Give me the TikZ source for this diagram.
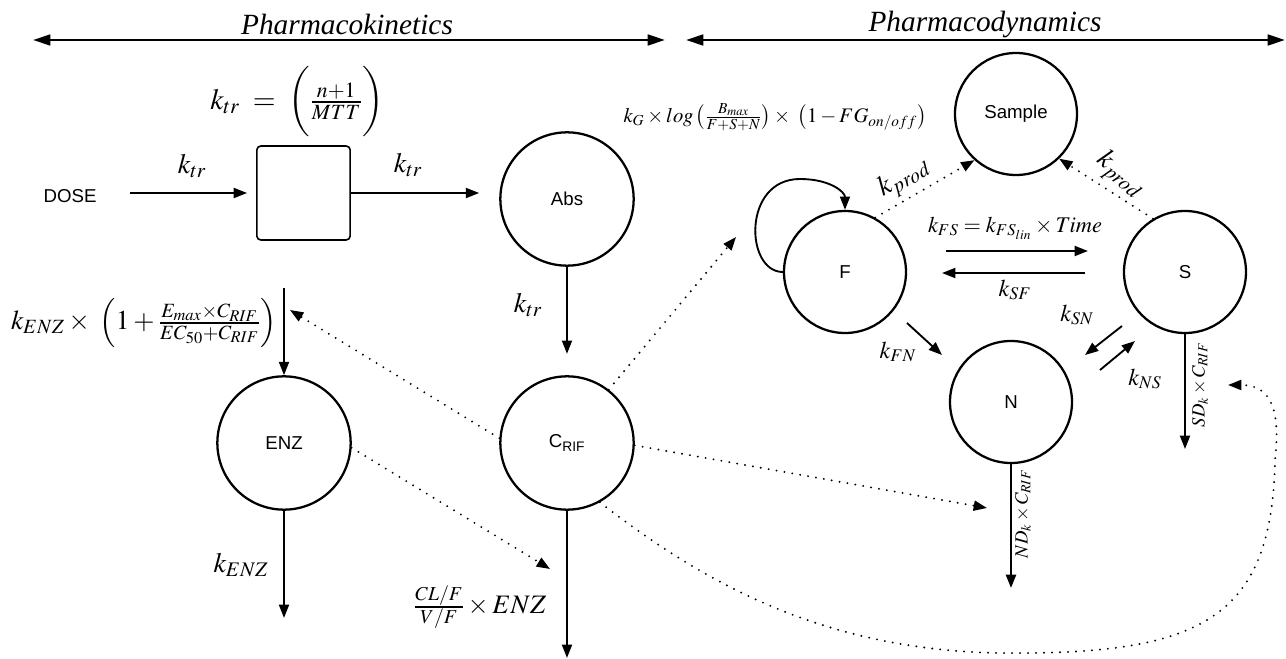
\documentclass[tikz,border=0pt]{standalone}
\usepackage{mathptmx}
\usepackage[no-math]{fontspec}
\setmainfont{Liberation Serif}
\setsansfont{Liberation Sans}
\usetikzlibrary{arrows.meta,calc}
\begin{document}
\begin{tikzpicture}[x=0.75pt,y=-0.75pt,
  comp/.style={circle,draw,line width=1.7pt,inner sep=0pt,font=\sffamily\fontsize{14}{16}\selectfont},
  bigc/.style={comp,minimum size=100pt},
  smallc/.style={comp,minimum size=91.5pt},
  arr/.style={line width=1.4pt,-{Triangle[length=10pt,width=7.5pt]}},
  dotarr/.style={line width=1.6pt,line cap=round,dash pattern=on 0pt off 6pt,-{Triangle[length=10pt,width=7.5pt]}},
  twoway/.style={line width=2pt,{Triangle[length=13pt,width=8pt]}-{Triangle[length=13pt,width=8pt]}},
  lbl/.style={inner sep=0pt,font=\fontsize{21}{24}\selectfont},
  mlbl/.style={inner sep=0pt,font=\fontsize{18}{21}\selectfont},
  slbl/.style={inner sep=0pt,font=\fontsize{14}{16}\selectfont},
  head/.style={inner sep=0pt,font=\itshape\fontsize{22}{26}\selectfont},
]
\useasboundingbox (0,0) rectangle (1286,659);

% headers
\coordinate (pkL) at (33,40);
\coordinate (pkR) at (665,40);
\coordinate (pdL) at (686,40);
\coordinate (pdR) at (1285,40);
\draw[twoway] (pkL) -- (pkR);
\draw[twoway] (pdL) -- (pdR);
\node[head] (pk) at (347,24) {Pharmacokinetics};
\node[head] (pd) at (985,24) {Pharmacodynamics};

% nodes
\node[font=\sffamily\fontsize{14}{16}\selectfont] (dose) at (70,196) {DOSE};
\node[draw,rounded corners=3pt,line width=1.2pt,minimum width=70pt,minimum height=70.5pt] (box) at (303.5,193) {};
\node[bigc] (abs) at (567,199) {Abs};
\node[bigc] (crif) at (567,443) {C\textsubscript{RIF}};
\node[bigc] (enz) at (284,443) {ENZ};
\node[smallc] (sample) at (1016,114) {Sample};
\node[smallc] (F) at (845,272) {F};
\node[smallc] (S) at (1185,272) {S};
\node[smallc] (N) at (1011,402) {N};

% free ends
\coordinate (enzin) at (284,288);
\coordinate (enzout) at (284,618);
\coordinate (crifout) at (567,658);
\coordinate (Nout) at (1011,588);
\coordinate (Sout) at (1185,449);
\coordinate (tipE) at (290,310);
\coordinate (tipC) at (550,569);
\coordinate (tipF) at (736,237);
\coordinate (tipN) at (987,508);
\coordinate (tipS) at (1228,385);

% PK arrows
\draw[arr,shorten <=22pt,shorten >=6.75pt] (dose.east |- box.west) -- (box.west);
\draw[arr,shorten >=15pt] (box.east) -- (box.east -| abs.west);
\draw[arr,shorten >=16pt] (abs.south) -- (crif.north);
\draw[arr] (enzin) -- (enz.north);
\draw[arr] (enz.south) -- (enzout);
\draw[arr] (crif.south) -- (crifout);

\node[lbl] (lk1) at (192,166) {$k_{tr}$};
\node[lbl] (lk2) at (408,165) {$k_{tr}$};
\node[lbl] (lk3) at (528,305) {$k_{tr}$};
\node[font=\fontsize{22}{26}\selectfont] (ktrf) at (297,102) {$k_{tr}\;=\;\biggl(\frac{n+1}{MTT}\biggr)$};
\node[font=\fontsize{20.5}{24}\selectfont] (kenzf) at (144,323) {$k_{ENZ}\times\;\left(1+\frac{E_{max}\times C_{RIF}}{EC_{50}+C_{RIF}}\right)$};
\node[lbl] (lkenz) at (241,565) {$k_{ENZ}$};
\node[font=\fontsize{20}{24}\selectfont] (lcl) at (480,607) {$\frac{CL/F}{V/F}\times ENZ$};

% dotted effects
\draw[dotarr] (crif.176) -- (tipE);
\draw[dotarr] (enz.-4) -- (tipC);
\draw[dotarr] (crif.52) -- (tipF);
\draw[dotarr] (crif.-2) -- (tipN);
\draw[dotarr] (crif.-61) .. controls (700,580) and (820,650) .. (1000,653)
   .. controls (1200,655) and (1272,620) .. (1275,460)
   .. controls (1282,400) and (1265,385) .. (tipS);

% PD arrows
\draw[arr] (F.180) .. controls (745,272) and (742,179) .. (800,179)
   .. controls (830,179) and (845,192) .. (F.north);
\draw[dotarr] (F.61) -- (sample.-132);
\draw[dotarr] (S.121) -- (sample.-46);
\draw[arr] ($(F)+(101,-21)$) -- ($(S)+(-97,-21)$);
\draw[arr] ($(S)+(-100,1)$) -- ($(F)+(97,1)$);
\draw[arr] ($(F)+(62,51)$) -- ($(F)+(97,83)$);
\draw[arr] ($(S)+(-63,54)$) -- ($(S)+(-100,83)$);
\draw[arr] ($(N)+(89,-32)$) -- ($(N)+(124,-61)$);
\draw[arr,line width=1.8pt] (N.south) -- (Nout);
\draw[arr] (S.south) -- (Sout);

\node[font=\fontsize{15.5}{18}\selectfont] (kgf) at (775,117) {$k_G\times log\left(\frac{B_{max}}{F+S+N}\right)\times\;\left(1-FG_{on/off}\right)$};
\node[lbl,rotate=30] (lprod1) at (904,178) {$k_{prod}$};
\node[lbl,rotate=-40] (lprod2) at (1120,175) {$k_{prod}$};
\node[font=\fontsize{16.8}{19}\selectfont] (lkfs) at (1015,228) {$k_{FS}=k_{FS_{lin}}\times Time$};
\node[mlbl] (lksf) at (1015,290) {$k_{SF}$};
\node[mlbl] (lkfn) at (898,352) {$k_{FN}$};
\node[mlbl] (lksn) at (1077,315) {$k_{SN}$};
\node[mlbl] (lkns) at (1145,379) {$k_{NS}$};
\node[slbl,rotate=90] (lnd) at (1023,514) {$ND_k\times C_{RIF}$};
\node[slbl,rotate=90] (lsd) at (1200,385) {$SD_k\times C_{RIF}$};
\end{tikzpicture}
\end{document}
